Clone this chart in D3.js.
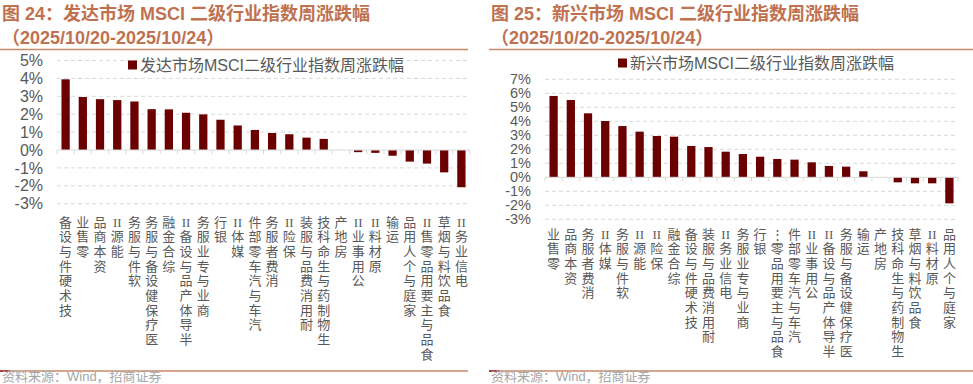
<!DOCTYPE html>
<html>
<head>
<meta charset="utf-8">
<script src="https://cdn.jsdelivr.net/npm/d3@7"></script>
<style>
  body { margin: 0; background: #fff; }
  svg { display: block; }
</style>
</head>
<body>
<script>
// data
var dmCategories = ['技术硬件与设备', '零售业', '资本商品', '能源II', '软件与服务', '医疗保健设备与服务',
  '综合金融', '半导体产品与设备II', '商业与专业服务', '银行', '媒体II', '汽车与汽车零部件',
  '消费者服务', '保险II', '耐用消费品与服装', '生物制药与生命科技', '房地产', '公用事业II',
  '原材料II', '运输', '家庭与个人用品', '食品与主要用品零售II', '食品饮料与烟草', '电信业务II'];
var dmValues = [3.95, 2.96, 2.84, 2.79, 2.71, 2.28, 2.27, 2.08, 1.99, 1.69, 1.37, 1.12,
  0.95, 0.88, 0.69, 0.62, 0.0, -0.12, -0.16, -0.32, -0.65, -0.76, -1.25, -2.08];
var dmTicks = [5, 4, 3, 2, 1, 0, -1, -2, -3];

var emCategories = ['零售业', '资本商品', '消费者服务', '媒体II', '软件与服务', '能源II', '保险II',
  '综合金融', '技术硬件与设备', '耐用消费品与服装', '电信业务II', '商业与专业服务', '银行',
  '食品与主要用品零⋮', '汽车与汽车零部件', '公用事业II', '半导体产品与设备II', '医疗保健设备与服务',
  '运输', '房地产', '生物制药与生命科技', '食品饮料与烟草', '原材料II', '家庭与个人用品'];
var emValues = [5.81, 5.52, 4.57, 4.02, 3.66, 3.26, 2.95, 2.90, 2.24, 2.16, 1.83, 1.66, 1.47,
  1.31, 1.26, 1.07, 0.81, 0.76, 0.43, 0.0, -0.36, -0.43, -0.43, -1.86];
var emTicks = [7, 6, 5, 4, 3, 2, 1, 0, -1, -2, -3];

var width = 973, height = 384;
var font = '"Liberation Sans", Arial, "Noto Sans CJK SC", sans-serif';
var barColor = '#6b0000', titleColor = '#c0714f', lineColor = '#c98a68';
var grey = '#595959', gridColor = '#d9d9d9';

var svg = d3.select('body').append('svg')
  .attr('width', width)
  .attr('height', height);

var panels = [
  { x0: 0, x1: 468, title1: '图 24：发达市场 MSCI 二级行业指数周涨跌幅',
    legend: '发达市场MSCI二级行业指数周涨跌幅',
    cats: dmCategories, vals: dmValues, ticks: dmTicks, tickFont: 16,
    plotL: 57, plotR: 470, yTop: 60.5, yBot: 203.7, legendX: 128, legendY: 65, catTop: 222 },
  { x0: 489, x1: 973, title1: '图 25：新兴市场 MSCI 二级行业指数周涨跌幅',
    legend: '新兴市场MSCI二级行业指数周涨跌幅',
    cats: emCategories, vals: emValues, ticks: emTicks, tickFont: 14.5,
    plotL: 545, plotR: 958, yTop: 79.3, yBot: 219.3, legendX: 618, legendY: 63, catTop: 234 }
];

panels.forEach(drawPanel);

function tokens(s) {
  // keep "II" together, split the rest char by char
  return s.match(/II|./g);
}

function drawPanel(p) {
  var g = svg.append('g');

  // title
  g.append('text')
    .attr('x', p.x0 + 2).attr('y', 20)
    .attr('font-family', font).attr('font-size', 18).attr('font-weight', 'bold')
    .attr('fill', titleColor)
    .text(p.title1);
  g.append('text')
    .attr('x', p.x0 + 2).attr('y', 44)
    .attr('font-family', font).attr('font-size', 18).attr('font-weight', 'bold')
    .attr('fill', titleColor)
    .text('（2025/10/20-2025/10/24）');

  // separator lines
  g.append('line')
    .attr('x1', p.x0).attr('x2', p.x1).attr('y1', 49.5).attr('y2', 49.5)
    .attr('stroke', lineColor).attr('stroke-width', 1.5);
  g.append('line')
    .attr('x1', p.x0).attr('x2', p.x1).attr('y1', 371).attr('y2', 371)
    .attr('stroke', lineColor).attr('stroke-width', 1.5);
  g.append('line')
    .attr('x1', p.x0).attr('x2', p.x0 + 10).attr('y1', 371).attr('y2', 371)
    .attr('stroke', '#9b1c1c').attr('stroke-width', 1.5);

  // source
  g.append('text')
    .attr('x', p.x0 + 2).attr('y', 381)
    .attr('font-family', font).attr('font-size', 13)
    .attr('fill', '#a6a6a6')
    .text('资料来源：Wind，招商证券');

  var x = d3.scaleBand()
    .domain(p.cats)
    .range([p.plotL, p.plotR])
    .paddingInner(0.52)
    .paddingOuter(0.26);

  var y = d3.scaleLinear()
    .domain([d3.min(p.ticks), d3.max(p.ticks)])
    .range([p.yBot, p.yTop]);

  // gridlines
  g.append('g').selectAll('line')
    .data(p.ticks.filter(d => d !== 0))
    .join('line')
      .attr('x1', p.plotL).attr('x2', p.plotR)
      .attr('y1', d => y(d)).attr('y2', d => y(d))
      .attr('stroke', gridColor).attr('stroke-dasharray', '4,3');

  // y axis labels
  var yAxis = g.append('g')
    .attr('transform', 'translate(' + p.plotL + ',0)')
    .call(d3.axisLeft(y).tickValues(p.ticks).tickFormat(d => d + '%').tickSize(0).tickPadding(14));
  yAxis.select('.domain').remove();
  yAxis.selectAll('text')
    .attr('font-family', font).attr('font-size', p.tickFont).attr('fill', grey);

  // bars
  g.append('g').selectAll('rect')
    .data(p.vals)
    .join('rect')
      .attr('x', (d, i) => x(p.cats[i]))
      .attr('width', x.bandwidth())
      .attr('y', d => Math.min(y(d), y(0)))
      .attr('height', d => Math.abs(y(d) - y(0)))
      .attr('fill', barColor);

  // zero line with ticks
  g.append('line')
    .attr('x1', p.plotL).attr('x2', p.plotR)
    .attr('y1', y(0)).attr('y2', y(0))
    .attr('stroke', gridColor);
  var step = x.step();
  g.append('g').selectAll('line')
    .data(d3.range(p.cats.length + 1))
    .join('line')
      .attr('x1', i => p.plotL + i * step).attr('x2', i => p.plotL + i * step)
      .attr('y1', y(0)).attr('y2', y(0) + 4)
      .attr('stroke', gridColor);

  // category labels: upright chars, reading bottom to top, ending at top
  var catG = g.append('g');
  p.cats.forEach(function(c) {
    var t = tokens(c);
    var cx = x(c) + x.bandwidth() / 2;
    t.forEach(function(ch, k) {
      catG.append('text')
        .attr('x', cx)
        .attr('y', p.catTop + (t.length - 1 - k) * 14.7)
        .attr('text-anchor', 'middle')
        .attr('dominant-baseline', 'central')
        .attr('font-family', ch === 'II' ? '"Liberation Serif", serif' : font)
        .attr('font-size', 13)
        .attr('fill', grey)
        .text(ch);
    });
  });

  // legend
  g.append('rect')
    .attr('x', p.legendX).attr('y', p.legendY - 4.5)
    .attr('width', 9).attr('height', 9)
    .attr('fill', barColor);
  g.append('text')
    .attr('x', p.legendX + 12).attr('y', p.legendY)
    .attr('dominant-baseline', 'central')
    .attr('font-family', font).attr('font-size', 16).attr('fill', grey)
    .text(p.legend);
}
</script>
</body>
</html>
